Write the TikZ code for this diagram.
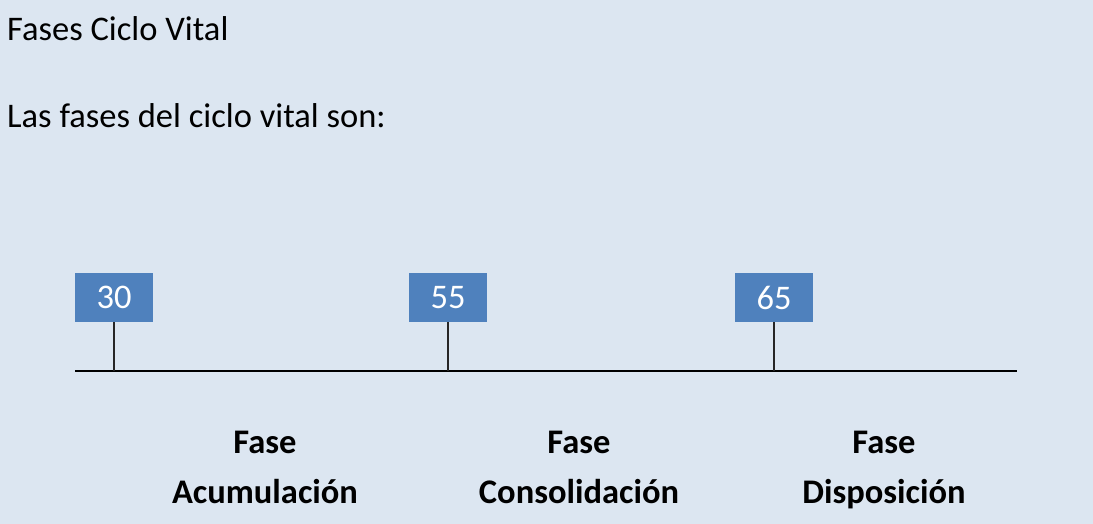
\documentclass[tikz,border=0pt]{standalone}
\usepackage{fontspec}
\setmainfont{Carlito}
\definecolor{bgblue}{HTML}{DCE6F1}
\definecolor{boxblue}{HTML}{4F81BD}
\begin{document}
\begin{tikzpicture}[x=1pt,y=-1pt,
  txt/.style={anchor=base west,inner sep=0pt,font=\fontsize{34.5}{41}\selectfont},
  agebox/.style={fill=boxblue,minimum width=78pt,minimum height=49pt,inner sep=0pt,text=white,font=\fontsize{34.5}{41}\selectfont},
  phase/.style={align=center,inner sep=0pt,font=\fontsize{34.5}{50}\selectfont\bfseries},
  axisline/.style={line width=1.6pt,black},
  stem/.style={line width=1.4pt,black!85}]
\fill[bgblue] (0,0) rectangle (1093,524);
\useasboundingbox (0,0) rectangle (1093,524);
\node[txt] (title) at (7,41) {Fases Ciclo Vital};
\node[txt] (intro) at (7,128) {Las fases del ciclo vital son:};
\node[agebox] (b30) at (114,297.5) {30};
\node[agebox] (b55) at (448,297.5) {55};
\node[agebox] (b65) at (774,297.5) {65};
\coordinate (axL) at (75,371);
\coordinate (axR) at (1017,371);
\draw[axisline] (axL) -- (axR);
\draw[stem] (b30.south) -- (b30.south |- axL);
\draw[stem] (b55.south) -- (b55.south |- axL);
\draw[stem] (b65.south) -- (b65.south |- axL);
\node[phase,anchor=base] (p1) at (265,503) {Fase\\Acumulación};
\node[phase,anchor=base] (p2) at (579,503) {Fase\\Consolidación};
\node[phase,anchor=base] (p3) at (884,503) {Fase\\Disposición};
\end{tikzpicture}
\end{document}
